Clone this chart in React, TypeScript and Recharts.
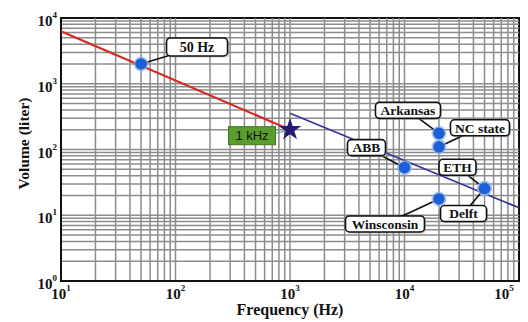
import {
  ReferenceArea,
  ReferenceLine,
  Scatter,
  ScatterChart,
  Symbols,
  XAxis,
  YAxis,
} from "recharts";

// log-log sizing data
const LOW_FREQ = [10, 1000];
const LOW_VOL = [6300, 200];
const HIGH_FREQ = [1000, 100000];
const HIGH_VOL = [355, 13];

const POINT_NAMES = ["50 Hz", "Arkansas", "NC state", "ABB", "ETH", "Delft", "Winsconsin"];
const POINT_FREQ = [50, 20000, 20000, 10000, 50000, 50000, 20000];
const POINT_VOL = [2000, 176, 110, 53, 25.7, 25.5, 17.7];

const STAR_NAMES = ["1 kHz"];
const STAR_FREQ = [1000];
const STAR_VOL = [200];

const X_TICKS = [10, 100, 1000, 10000, 100000];
const Y_TICKS = [1, 10, 100, 1000, 10000];
const LOG_STEPS = [2, 3, 4, 5, 6, 7, 8, 9];

const X_GRID = X_TICKS.flatMap((d, i) =>
  i < X_TICKS.length - 1 ? [d, ...LOG_STEPS.map((s) => s * d)] : [],
);
const Y_GRID = Y_TICKS.flatMap((d, i) =>
  i < Y_TICKS.length - 1 ? [d, ...LOG_STEPS.map((s) => s * d)] : [],
);

const lowLine = LOW_FREQ.map((f, i) => ({ f, v: LOW_VOL[i] }));
const highLine = HIGH_FREQ.map((f, i) => ({ f, v: HIGH_VOL[i] }));
const points = POINT_NAMES.map((name, i) => ({ name, f: POINT_FREQ[i], v: POINT_VOL[i] }));
const stars = STAR_NAMES.map((name, i) => ({ name, f: STAR_FREQ[i], v: STAR_VOL[i] }));

// callout box placement, pixels relative to the marker
const CALLOUTS: Record<string, { dx: number; dy: number; w: number; h: number; fs: number }> = {
  "50 Hz": { dx: 56, dy: -17, w: 61, h: 18, fs: 14 },
  Arkansas: { dx: -31, dy: -23, w: 65, h: 16, fs: 13.5 },
  "NC state": { dx: 41, dy: -19, w: 59, h: 16, fs: 13.5 },
  ABB: { dx: -38, dy: -20, w: 38, h: 16, fs: 13.5 },
  ETH: { dx: -27, dy: -21, w: 37, h: 16, fs: 13.5 },
  Delft: { dx: -21, dy: 25, w: 46, h: 16, fs: 13.5 },
  Winsconsin: { dx: -54, dy: 25, w: 79, h: 16, fs: 13.5 },
};

const SERIF = "'Liberation Serif', 'Times New Roman', serif";
const SANS = "'Liberation Sans', Arial, sans-serif";

function Callout(props: any) {
  const { cx, cy, payload } = props;
  const c = CALLOUTS[payload.name];
  const bx = cx + c.dx;
  const by = cy + c.dy;
  return (
    <g>
      <line x1={cx} y1={cy} x2={bx} y2={by} stroke="#111" strokeWidth={1.7} />
      <rect
        x={bx - c.w / 2 + 1.5}
        y={by - c.h / 2 + 1.5}
        width={c.w}
        height={c.h}
        rx={4}
        fill="#999"
        opacity={0.5}
      />
      <rect
        x={bx - c.w / 2}
        y={by - c.h / 2}
        width={c.w}
        height={c.h}
        rx={4}
        fill="#fff"
        stroke="#111"
        strokeWidth={1.6}
      />
      <text
        x={bx}
        y={by}
        dy="0.35em"
        textAnchor="middle"
        fontFamily={SERIF}
        fontWeight="bold"
        fontSize={c.fs}
        fill="#111"
      >
        {payload.name}
      </text>
      <circle cx={cx} cy={cy} r={7.5} fill="#8fb4ee" opacity={0.7} />
      <circle cx={cx} cy={cy} r={5.8} fill="#1d5fd4" />
    </g>
  );
}

function StarMarker(props: any) {
  const { cx, cy, payload } = props;
  const bx = cx - 38;
  const by = cy + 6;
  return (
    <g>
      <line x1={bx + 22} y1={by - 2} x2={cx} y2={cy} stroke="#3aa7a0" strokeWidth={1.2} />
      <rect x={bx - 23.5} y={by - 9} width={47} height={18} fill="#5a9c2e" stroke="#3d7a1c" />
      <text
        x={bx}
        y={by}
        dy="0.36em"
        textAnchor="middle"
        fontFamily={SANS}
        fontSize={13}
        fill="#111"
      >
        {payload.name}
      </text>
      <Symbols cx={cx} cy={cy} type="star" size={160} fill="#2a1a72" />
    </g>
  );
}

function XTick(props: any) {
  const { x, y, payload } = props;
  const exp = Math.round(Math.log10(payload.value));
  return (
    <text x={x} y={y + 16} textAnchor="middle" fontFamily={SERIF} fontWeight="bold" fontSize={15} fill="#111">
      10
      <tspan dy={-8} fontSize={9}>
        {exp}
      </tspan>
    </text>
  );
}

function YTick(props: any) {
  const { y, payload } = props;
  const exp = Math.round(Math.log10(payload.value));
  return (
    <text x={57} y={y + 8} textAnchor="end" fontFamily={SERIF} fontWeight="bold" fontSize={15} fill="#111">
      10
      <tspan dy={-8} fontSize={9}>
        {exp}
      </tspan>
    </text>
  );
}

const noShape = () => <g />;

export default function App() {
  return (
    <div style={{ position: "absolute", left: 0, top: 0, background: "#fff" }}>
      <ScatterChart width={528} height={322} margin={{ top: 18, right: 9, bottom: 0, left: 0 }}>
        <XAxis
          dataKey="f"
          type="number"
          scale="log"
          domain={[10, 100000]}
          ticks={X_TICKS}
          allowDataOverflow
          height={41}
          tickLine={false}
          tickSize={0}
          axisLine={{ stroke: "#111", strokeWidth: 2 }}
          tick={<XTick />}
          label={{
            content: (p: any) => (
              <text
                x={p.viewBox.x + p.viewBox.width / 2}
                y={p.viewBox.y + 34}
                textAnchor="middle"
                fontFamily={SERIF}
                fontWeight="bold"
                fontSize={16}
                fill="#111"
              >
                Frequency (Hz)
              </text>
            ),
          }}
        />
        <YAxis
          dataKey="v"
          type="number"
          scale="log"
          domain={[1, 10000]}
          ticks={Y_TICKS}
          allowDataOverflow
          width={61}
          tickLine={false}
          tickSize={0}
          axisLine={{ stroke: "#111", strokeWidth: 2 }}
          tick={<YTick />}
          label={{
            content: (p: any) => (
              <text
                x={29}
                y={p.viewBox.y + p.viewBox.height / 2 - 6}
                transform={`rotate(-90 29 ${p.viewBox.y + p.viewBox.height / 2 - 6})`}
                textAnchor="middle"
                fontFamily={SERIF}
                fontWeight="bold"
                fontSize={15.5}
                fill="#111"
              >
                Volume (liter)
              </text>
            ),
          }}
        />
        {X_GRID.map((g) => (
          <ReferenceLine key={`x${g}`} x={g} stroke="#8c8c8c" strokeWidth={1.5} />
        ))}
        {Y_GRID.map((g) => (
          <ReferenceLine key={`y${g}`} y={g} stroke="#8c8c8c" strokeWidth={1.5} />
        ))}
        <ReferenceArea
          x1={10}
          x2={100000}
          y1={1}
          y2={10000}
          fill="none"
          stroke="#111"
          strokeWidth={2}
          ifOverflow="visible"
        />
        <Scatter
          data={lowLine}
          line={{ stroke: "#d62a24", strokeWidth: 2.2 }}
          shape={noShape}
          isAnimationActive={false}
        />
        <Scatter
          data={highLine}
          line={{ stroke: "#35349a", strokeWidth: 1.7 }}
          shape={noShape}
          isAnimationActive={false}
        />
        <Scatter data={stars} shape={<StarMarker />} isAnimationActive={false} />
        <Scatter data={points} shape={<Callout />} isAnimationActive={false} />
      </ScatterChart>
    </div>
  );
}
